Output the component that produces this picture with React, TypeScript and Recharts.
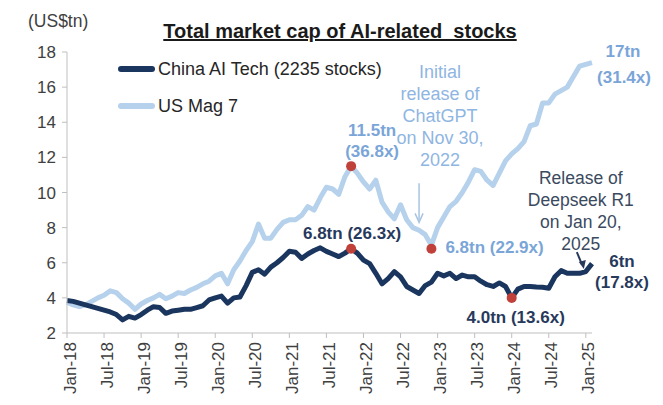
import {
  LineChart,
  Line,
  XAxis,
  YAxis,
  ReferenceDot,
} from "recharts";

const months = [
  "Jan-18", "Feb-18", "Mar-18", "Apr-18", "May-18", "Jun-18", "Jul-18", "Aug-18", "Sep-18", "Oct-18", "Nov-18", "Dec-18",
  "Jan-19", "Feb-19", "Mar-19", "Apr-19", "May-19", "Jun-19", "Jul-19", "Aug-19", "Sep-19", "Oct-19", "Nov-19", "Dec-19",
  "Jan-20", "Feb-20", "Mar-20", "Apr-20", "May-20", "Jun-20", "Jul-20", "Aug-20", "Sep-20", "Oct-20", "Nov-20", "Dec-20",
  "Jan-21", "Feb-21", "Mar-21", "Apr-21", "May-21", "Jun-21", "Jul-21", "Aug-21", "Sep-21", "Oct-21", "Nov-21", "Dec-21",
  "Jan-22", "Feb-22", "Mar-22", "Apr-22", "May-22", "Jun-22", "Jul-22", "Aug-22", "Sep-22", "Oct-22", "Nov-22", "Dec-22",
  "Jan-23", "Feb-23", "Mar-23", "Apr-23", "May-23", "Jun-23", "Jul-23", "Aug-23", "Sep-23", "Oct-23", "Nov-23", "Dec-23",
  "Jan-24", "Feb-24", "Mar-24", "Apr-24", "May-24", "Jun-24", "Jul-24", "Aug-24", "Sep-24", "Oct-24", "Nov-24", "Dec-24",
  "Jan-25", "Feb-25",
];

// US$tn, monthly
const chinaAiTech = [
  3.85, 3.8, 3.7, 3.6, 3.5, 3.4, 3.3, 3.2, 3.05, 2.75, 2.95, 2.85,
  3.05, 3.3, 3.5, 3.45, 3.12, 3.25, 3.3, 3.35, 3.35, 3.45, 3.55, 3.88,
  4.0, 4.1, 3.7, 4.0, 4.05, 4.7, 5.45, 5.6, 5.35, 5.75, 6.0, 6.3,
  6.65, 6.6, 6.25, 6.5, 6.7, 6.85, 6.65, 6.5, 6.35, 6.55, 6.8, 6.55,
  6.15, 5.95, 5.4, 4.8, 5.1, 5.5, 5.2, 4.65, 4.45, 4.25, 4.7, 4.9,
  5.4, 5.25, 5.4, 5.1, 5.3, 5.2, 5.2, 4.95, 4.75, 4.65, 4.85, 4.65,
  4.0, 4.5, 4.65, 4.65, 4.62, 4.6, 4.55, 5.2, 5.55, 5.4, 5.4, 5.4,
  5.5, 5.95,
];

const usMag7 = [
  3.75, 3.6, 3.5, 3.6, 3.8, 4.0, 4.15, 4.4, 4.3, 3.95, 3.7, 3.35,
  3.65, 3.85, 4.0, 4.2, 3.95, 4.1, 4.3, 4.25, 4.45, 4.6, 4.8, 4.95,
  5.25, 5.4, 4.8, 5.6, 6.1, 6.7, 7.2, 8.2, 7.4, 7.4, 7.9, 8.3,
  8.45, 8.45, 8.7, 9.2, 9.0, 9.7, 10.3, 10.2, 9.9, 10.9, 11.5, 11.1,
  10.6, 10.2, 10.7, 9.45, 8.9, 8.5, 9.3, 8.45, 8.0, 7.85, 7.6, 7.0,
  8.0, 8.6, 9.2, 9.5, 10.0, 10.6, 11.3, 11.2, 10.7, 10.4, 11.1, 11.8,
  12.2, 12.5, 12.9, 13.8, 13.9, 15.1, 15.1, 15.6, 15.8, 16.0, 16.6, 17.2,
  17.3, 17.4,
];

const yTicks = [2, 4, 6, 8, 10, 12, 14, 16, 18];

const data = months.map((month, i) => ({
  month,
  china: chinaAiTech[i],
  us: usMag7[i],
}));

const NAVY = "#1b365e";
const LIGHT = "#b6d1ec";
const LIGHT_TEXT = "#7aa5d8";
const DARK_TEXT = "#27395c";
const RED = "#c0403a";
const FONT = "'Liberation Sans', Arial, sans-serif";

const XTick = ({ x, y, payload }: any) => (
  <text
    x={x}
    y={y}
    transform={`rotate(-90 ${x} ${y})`}
    textAnchor="end"
    dominantBaseline="central"
    dx={-2}
    dy={3}
    fontSize={17}
    fontFamily={FONT}
    fill="#404040"
  >
    {payload.value}
  </text>
);

// a red dot with a few text lines around it
const noted = (lines: { t: string; dx: number; dy: number }[], color: string, bold: boolean, anchor = "middle", dot = true) =>
  (p: any) => (
    <g>
      {dot && <circle cx={p.cx} cy={p.cy} r={5} fill={RED} />}
      {lines.map((l, i) => (
        <text
          key={i}
          x={p.cx + l.dx}
          y={p.cy + l.dy}
          textAnchor={anchor}
          dominantBaseline="central"
          fontSize={17}
          fontWeight={bold ? "bold" : "normal"}
          fontFamily={FONT}
          fill={color}
        >
          {l.t}
        </text>
      ))}
    </g>
  );

const chatGptNote = (p: any) => (
  <g>
    <line x1={p.cx} y1={p.cy - 39} x2={p.cx} y2={p.cy - 2} stroke="#a9c4e2" strokeWidth={1.5} />
    <path d={`M${p.cx - 4},${p.cy - 9} L${p.cx},${p.cy} L${p.cx + 4},${p.cy - 9}`} fill="none" stroke="#a9c4e2" strokeWidth={1.5} />
    {["Initial", "release of", "ChatGPT", "on Nov 30,", "2022"].map((t, i) => (
      <text key={i} x={p.cx + 21} y={p.cy - 150 + i * 22} textAnchor="middle" dominantBaseline="central"
        fontSize={18} fontFamily={FONT} fill="#8fb6e2">
        {t}
      </text>
    ))}
  </g>
);

const deepseekNote = (p: any) => (
  <g>
    <line x1={p.cx - 9} y1={p.cy - 16} x2={p.cx - 4} y2={p.cy - 4} stroke={DARK_TEXT} strokeWidth={2} />
    <path d={`M${p.cx - 7},${p.cy - 6} L${p.cx - 2},${p.cy + 1} L${p.cx},${p.cy - 8} Z`} fill={DARK_TEXT} />
    {["Release of", "Deepseek R1", "on Jan 20,", "2025"].map((t, i) => (
      <text key={i} x={p.cx - 5} y={p.cy - 90 + i * 22} textAnchor="middle" dominantBaseline="central"
        fontSize={17.5} fontFamily={FONT} fill="#3a4a60">
        {t}
      </text>
    ))}
  </g>
);

const App = () => {
  return (
    <div style={{ position: "absolute", left: 0, top: 0, width: 663, height: 405, background: "#fff", fontFamily: FONT }}>
      <div style={{ position: "absolute", left: 28, top: 11, fontSize: 17.5, color: "#404040" }}>(US$tn)</div>
      <div
        style={{
          position: "absolute",
          left: 0,
          width: 680,
          top: 20,
          textAlign: "center",
          fontSize: 20,
          fontWeight: "bold",
          textDecoration: "underline",
          color: "#1a1a1a",
          whiteSpace: "pre",
        }}
      >
        {"Total market cap of AI-related  stocks"}
      </div>
      <div style={{ position: "absolute", left: 118, top: 58, fontSize: 18, color: "#262626", zIndex: 2 }}>
        <div style={{ display: "flex", alignItems: "center", height: 22 }}>
          <span style={{ width: 37, height: 6, borderRadius: 3, background: NAVY, marginRight: 3 }} />
          China AI Tech (2235 stocks)
        </div>
        <div style={{ display: "flex", alignItems: "center", height: 22, marginTop: 15 }}>
          <span style={{ width: 37, height: 6, borderRadius: 3, background: LIGHT, marginRight: 3 }} />
          US Mag 7
        </div>
      </div>
      <LineChart width={663} height={405} data={data} margin={{ top: 52, right: 71, bottom: 0, left: 0 }}>
        <XAxis
          dataKey="month"
          interval={5}
          tick={<XTick />}
          height={72}
          tickSize={5}
          stroke="#bfbfbf"
          tickLine={{ stroke: "#bfbfbf" }}
        />
        <YAxis
          domain={[2, 18]}
          ticks={yTicks}
          width={67}
          tickSize={5}
          tickMargin={6}
          stroke="#bfbfbf"
          tick={{ fontSize: 17, fill: "#404040", fontFamily: FONT }}
        />
        <Line dataKey="us" stroke={LIGHT} strokeWidth={5} dot={false} strokeLinejoin="round" isAnimationActive={false} />
        <Line dataKey="china" stroke={NAVY} strokeWidth={5} dot={false} strokeLinejoin="round" isAnimationActive={false} />
        <ReferenceDot x="Oct-22" y={8.3} r={0} shape={chatGptNote} />
        <ReferenceDot x="Jan-25" y={5.7} r={0} shape={deepseekNote} />
        <ReferenceDot x="Nov-21" y={11.5} shape={noted([{ t: "11.5tn", dx: 21, dy: -36 }, { t: "(36.8x)", dx: 21, dy: -15 }], LIGHT_TEXT, true)} />
        <ReferenceDot x="Nov-21" y={6.8} shape={noted([{ t: "6.8tn (26.3x)", dx: 1, dy: -15 }], DARK_TEXT, true)} />
        <ReferenceDot x="Dec-22" y={6.8} shape={noted([{ t: "6.8tn (22.9x)", dx: 14, dy: -1 }], LIGHT_TEXT, true, "start")} />
        <ReferenceDot x="Jan-24" y={4.0} shape={noted([{ t: "4.0tn (13.6x)", dx: 4, dy: 20 }], DARK_TEXT, true)} />
        <ReferenceDot x="Feb-25" y={17.4} r={0} shape={noted([{ t: "17tn", dx: 31, dy: -11 }, { t: "(31.4x)", dx: 32, dy: 15 }], LIGHT_TEXT, true, "middle", false)} />
        <ReferenceDot x="Feb-25" y={5.95} r={0} shape={noted([{ t: "6tn", dx: 30, dy: -2 }, { t: "(17.8x)", dx: 30, dy: 19 }], DARK_TEXT, true, "middle", false)} />
      </LineChart>
    </div>
  );
};

export default App;
